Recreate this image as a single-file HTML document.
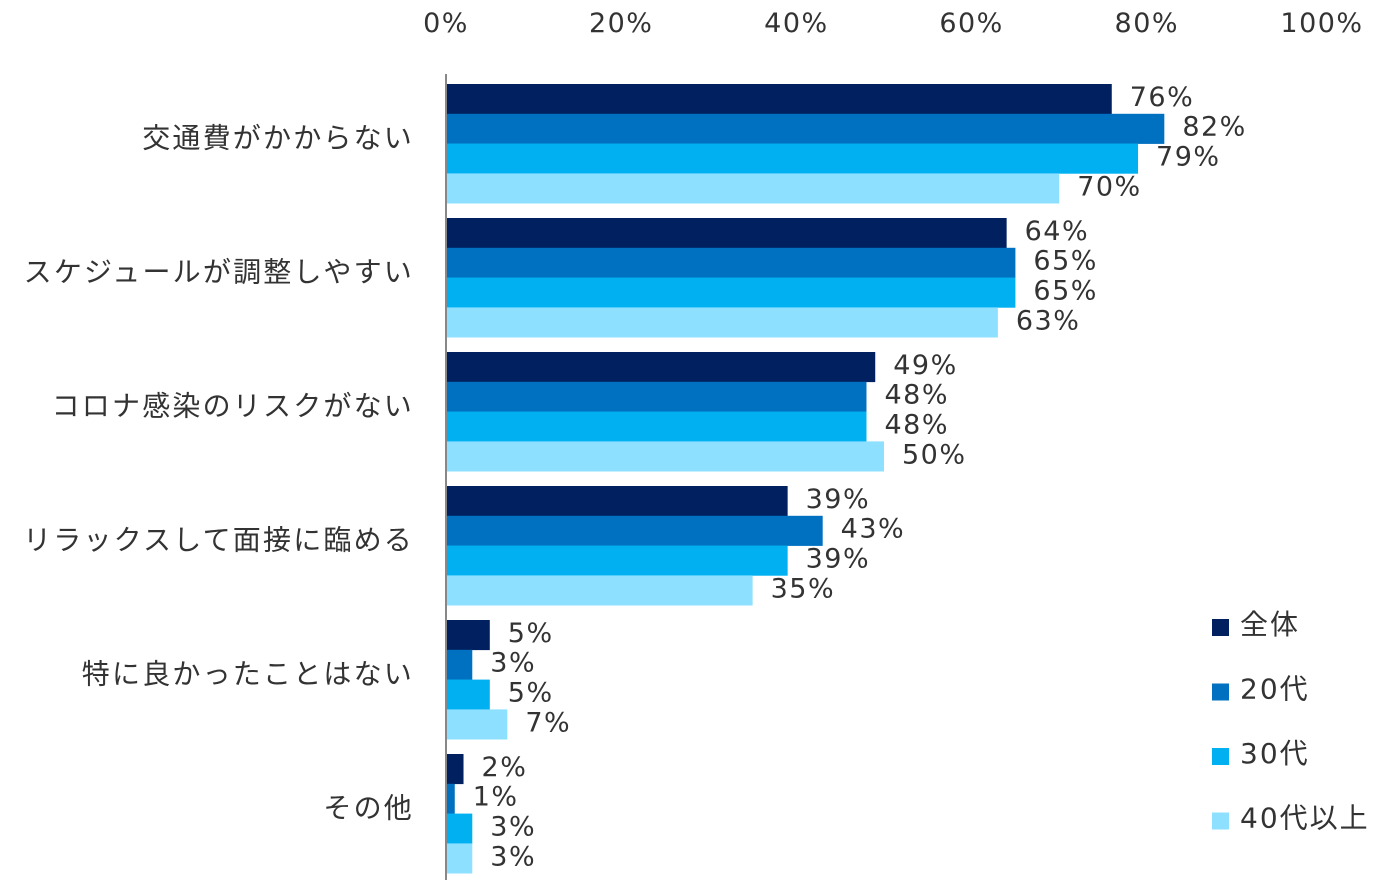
<!DOCTYPE html>
<html><head><meta charset="utf-8">
<style>
body{margin:0;background:#fff;}
svg text{font-family:"DejaVu Sans","Noto Sans CJK JP",sans-serif;fill:#333;}
</style></head>
<body>
<svg id="chart" width="1385" height="891"></svg>
<script>
const categories=["交通費がかからない","スケジュールが調整しやすい","コロナ感染のリスクがない","リラックスして面接に臨める","特に良かったことはない","その他"];
const seriesNames=["全体","20代","30代","40代以上"];
const sAll=[76,64,49,39,5,2];
const s20=[82,65,48,43,3,1];
const s30=[79,65,48,39,5,3];
const s40=[70,63,50,35,7,3];
const ticks=[0,20,40,60,80,100];
const series=[sAll,s20,s30,s40];
const colors=["#002060","#0070c0","#00b0f0","#8de0ff"];
const svg=document.getElementById('chart');
const NS="http://www.w3.org/2000/svg";
const x0=446,x1=1322,yTop=84,groupH=134,barH=29.8;
const xs=v=>x0+(x1-x0)*v/100;
function mk(tag,attrs,txt){const e=document.createElementNS(NS,tag);for(const k in attrs)e.setAttribute(k,attrs[k]);if(txt!=null)e.textContent=txt;svg.appendChild(e);return e;}
ticks.forEach(t=>{
 const e=mk('text',{x:xs(t),y:32,'font-size':27,'letter-spacing':1.5,'text-anchor':'middle'},t+'%');
 
 
});
categories.forEach((c,i)=>{
 const gy=yTop+i*groupH;
 const e=mk('text',{x:414,y:gy+2*barH+4,'font-size':28,'letter-spacing':2.2,'text-anchor':'end'},c);
 
 
 series.forEach((s,j)=>{
  const y=gy+j*barH;
  const r=mk('rect',{x:x0,y:y,width:xs(s[i])-x0,height:barH+0.3,fill:colors[j]});
  
  
  const t=mk('text',{x:xs(s[i])+18,y:y+barH/2+7,'font-size':27,'letter-spacing':1.5},s[i]+'%');
  
  
 });
});
const ax=mk('line',{x1:x0,y1:74,x2:x0,y2:880,stroke:'#888','stroke-width':2});


seriesNames.forEach((n,j)=>{
 const y=627+j*64.5;
 const r=mk('rect',{x:1212,y:y-8,width:17,height:17,fill:colors[j]});
 
 
 const t=mk('text',{x:1240,y:y+7,'font-size':28,'letter-spacing':2},n);
 
 
});
</script>
</body></html>
